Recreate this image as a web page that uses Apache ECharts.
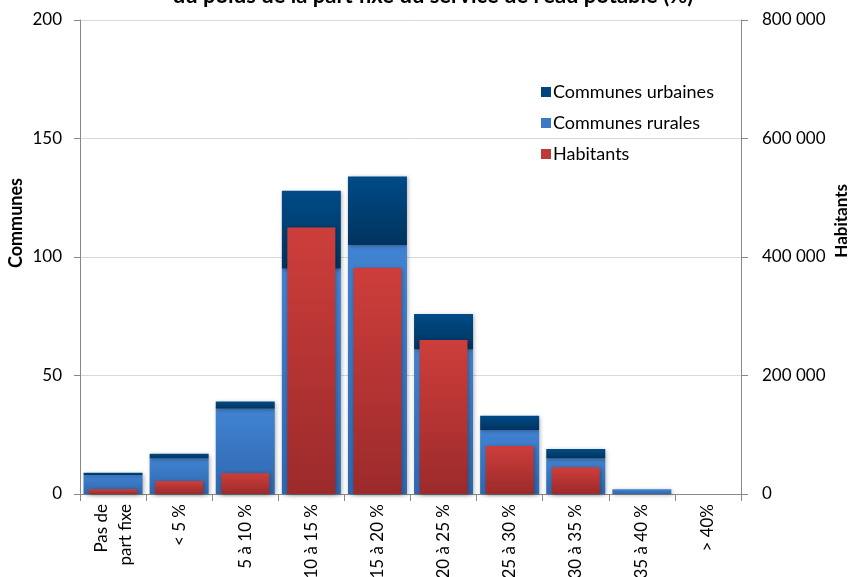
<!DOCTYPE html>
<html><head><meta charset="utf-8">
<script src="https://cdn.jsdelivr.net/npm/echarts@6/dist/echarts.min.js"></script>
<style>html,body{margin:0;padding:0;background:#fff}#c{width:851px;height:577px}</style>
</head><body><div id="c"></div>
<script>
const categories = ["Pas de\npart fixe", "< 5 %", "5 à 10 %", "10 à 15 %", "15 à 20 %", "20 à 25 %", "25 à 30 %", "30 à 35 %", "35 à 40 %", "> 40%"];
const communesRurales = [8, 15, 36, 95, 105, 61, 27, 15, 2, 0];
const communesUrbaines = [1, 2, 3, 33, 29, 15, 6, 4, 0, 0];
const habitants = [8000, 22000, 35000, 450000, 382000, 260000, 81000, 45000, 0, 0];
const leftTicks = [0, 50, 100, 150, 200];
const rightTicks = [0, 200000, 400000, 600000, 800000];

const FONT = "Lato, 'Open Sans', sans-serif";
function grad(top, bottom){
  return new echarts.graphic.LinearGradient(0,0,0,1,[{offset:0,color:top},{offset:1,color:bottom}]);
}
const chart = echarts.init(document.getElementById('c'));
chart.setOption({
  animation: false,
  textStyle: {fontFamily: FONT},
  title: {
    text: "du poids de la part fixe du service de l'eau potable (%)",
    left: 428, textAlign: 'center', top: -20,
    textStyle: {fontSize: 22, fontWeight: 'bold', color: '#000', fontFamily: FONT}
  },
  legend: {
    orient: 'vertical', left: 536, top: 78,
    itemWidth: 10, itemHeight: 10, itemGap: 13, icon: 'rect',
    textStyle: {fontSize: 18, color: '#000', fontFamily: FONT, padding: [0,0,0,-3]},
    data: [
      {name: 'Communes urbaines', itemStyle: {color: '#00457d'}},
      {name: 'Communes rurales', itemStyle: {color: '#3b78c6'}},
      {name: 'Habitants', itemStyle: {color: '#c0393a'}}
    ]
  },
  grid: {left: 80, right: 110, top: 20, bottom: 83, containLabel: false, outerBoundsMode: 'none'},
  xAxis: [{
    type: 'category', data: categories,
    axisLine: {lineStyle: {color: '#888'}},
    axisTick: {show: true, length: 7, lineStyle: {color: '#888'}},
    axisLabel: {rotate: 90, fontSize: 17, color: '#000', fontFamily: FONT, margin: 10, lineHeight: 24, interval: 0}
  }, {
    type: 'category', data: categories, show: false
  }],
  yAxis: [{
    type: 'value', min: 0, max: 200, interval: 50,
    axisLine: {show: true, lineStyle: {color: '#888'}},
    axisTick: {show: true, length: 6, lineStyle: {color: '#888'}},
    splitLine: {lineStyle: {color: '#d9d9d9'}},
    axisLabel: {fontSize: 17, color: '#000', fontFamily: FONT, margin: 18,
      formatter: v => leftTicks.includes(v) ? String(v) : ''}
  }, {
    type: 'value', min: 0, max: 800000, interval: 200000,
    axisLine: {show: true, lineStyle: {color: '#888'}},
    axisTick: {show: true, length: 7, lineStyle: {color: '#888'}},
    splitLine: {show: false},
    axisLabel: {fontSize: 17, color: '#000', fontFamily: FONT, margin: 21,
      formatter: v => rightTicks.includes(v) ? (v === 0 ? '0' : String(v).replace(/\B(?=(\d{3})+(?!\d))/g, ' ')) : ''}
  }],
  graphic: [
    {type: 'text', left: 7, top: 178, rotation: Math.PI/2,
     style: {text: 'Communes', font: "bold 18px " + FONT, fill: '#000'}},
    {type: 'text', left: 833, top: 184, rotation: Math.PI/2,
     style: {text: 'Habitants', font: "bold 17px " + FONT, fill: '#000'}}
  ],
  series: [
    {name: 'Communes rurales', type: 'bar', stack: 'c', barWidth: 59, xAxisIndex: 0, yAxisIndex: 0,
     data: communesRurales,
     itemStyle: {color: grad('#4183d2', '#2f67ae'), shadowBlur: 4, shadowColor: 'rgba(0,0,0,0.3)', shadowOffsetX: 1, shadowOffsetY: 1}},
    {name: 'Communes urbaines', type: 'bar', stack: 'c', barWidth: 59, xAxisIndex: 0, yAxisIndex: 0,
     data: communesUrbaines,
     itemStyle: {color: grad('#004b88', '#00335e'), shadowBlur: 4, shadowColor: 'rgba(0,0,0,0.3)', shadowOffsetX: 1, shadowOffsetY: 1}},
    {name: 'Habitants', type: 'bar', barWidth: 48, xAxisIndex: 1, yAxisIndex: 1,
     data: habitants,
     itemStyle: {color: grad('#cd3e3b', '#9c2a2b'), shadowBlur: 4, shadowColor: 'rgba(0,0,0,0.3)', shadowOffsetX: 1, shadowOffsetY: 1}}
  ]
});
</script></body></html>
